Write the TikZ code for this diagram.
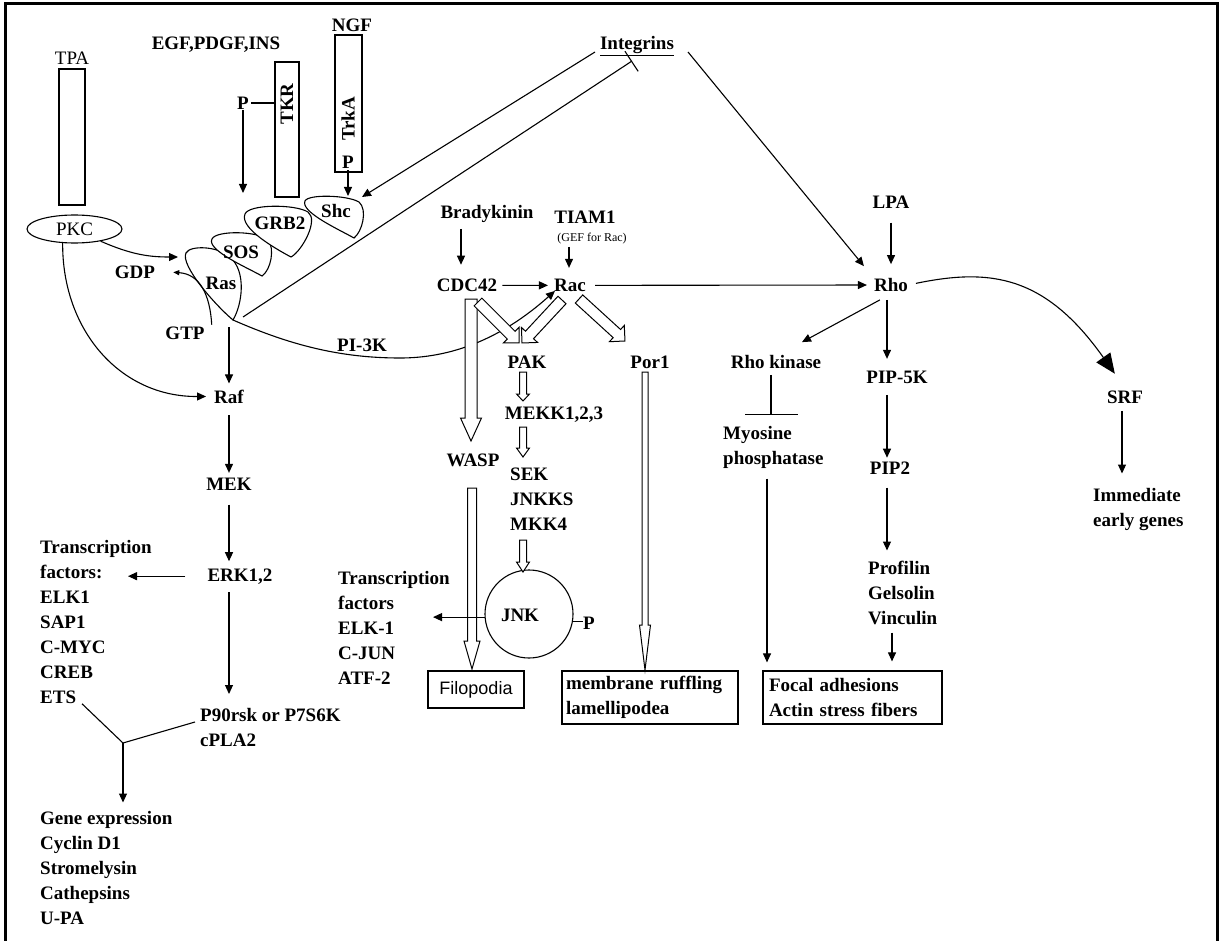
\documentclass[tikz,border=0pt]{standalone}
\usepackage{fontspec}
\setmainfont{Liberation Serif}
\newfontfamily\sansf{Liberation Sans}
\usetikzlibrary{arrows.meta,calc,shapes.geometric}
\newcommand\lbf{\fontsize{19}{25}\selectfont\bfseries}
\newcommand\lrg{\fontsize{19}{25}\selectfont}
% hollow (outlined) arrow: x1 y1 x2 y2 halfshaft halfhead headlength
\newcommand\hollowarr[7]{%
  \pgfmathsetmacro\hwdx{#3-#1}%
  \pgfmathsetmacro\hwdy{#4-#2}%
  \pgfmathsetmacro\hwlen{veclen(\hwdx,\hwdy)}%
  \pgfmathsetmacro\hwang{atan2(#2-#4,#3-#1)}%
  \pgfmathsetmacro\hwneck{\hwlen-#7}%
  \draw[hollow, shift={(#1,#2)}, rotate=\hwang] (0,-#5) -- (\hwneck,-#5) -- (\hwneck,-#6) -- (\hwlen,0) -- (\hwneck,#6) -- (\hwneck,#5) -- (0,#5) -- cycle;%
}
\begin{document}
\begin{tikzpicture}[x=1pt,y=-1pt,
  lb/.style={inner sep=0pt, font=\lbf, anchor=base},
  lr/.style={inner sep=0pt, font=\lrg, anchor=base},
  blk/.style={inner sep=0pt, font=\lbf, align=left, anchor=north west},
  ln/.style={line width=1.1pt},
  arr/.style={ln, -{Triangle[length=9pt,width=8pt]}},
  hollow/.style={line width=1pt, fill=white, line join=miter},
  rbox/.style={draw, line width=1.2pt, rectangle, inner sep=0pt},
  blob/.style={line width=1.1pt, fill=white}
]
\useasboundingbox (0,0) rectangle (1223,941);
% frame
\draw[line width=3pt] (5,941) -- (5,4) -- (1217,4) -- (1217,941);

% ---------- receptors ----------
\node[lr] (tpa) at (72,64.5) {TPA};
\node[rbox, minimum width=26pt, minimum height=136pt] (tpabox) at (72,137) {};
\node[ellipse, draw, ln, minimum width=95pt, minimum height=28pt, inner sep=0pt, font=\lrg] (pkc) at (74.5,229) {PKC};

\node[lb] (egf) at (216,49.5) {EGF,PDGF,INS};
\node[rbox, minimum width=24pt, minimum height=135pt] (tkrbox) at (287,129.5) {};
\node[lb, anchor=center, rotate=90] (tkr) at (287,104) {TKR};
\node[lb, anchor=center] (ptkr) at (243,103) {P};
\draw[ln, shorten <=2pt] (ptkr.east) -- (tkrbox.west |- ptkr.east);
\coordinate (grbtop) at (243,193);
\draw[arr, shorten <=1pt] (ptkr.south) -- (grbtop);

\node[lb] (ngf) at (352,31.5) {NGF};
\node[rbox, minimum width=27pt, minimum height=137pt] (trkbox) at (348.5,103.5) {};
\node[lb, anchor=center, rotate=90] (trka) at (348,119) {TrkA};
\node[lb, anchor=center] (ptrk) at (348,162) {P};
\coordinate (shctop) at (348,196);
\draw[arr, shorten <=2pt] (ptrk.south) -- (shctop);

% ---------- adaptor shapes ----------
\draw[blob] (233,320) .. controls (215,305) and (180,265) .. (186,253) .. controls (190,245) and (218,246) .. (230,257) .. controls (247,272) and (242,305) .. (233,320) -- cycle;
\draw[blob] (262,276) .. controls (248,268) and (206,250) .. (212,239) .. controls (216,230) and (259,231) .. (268,240) .. controls (275,248) and (271,270) .. (262,276) -- cycle;
\draw[blob] (291,257) .. controls (276,249) and (239,228) .. (245,214) .. controls (249,204) and (295,204) .. (308,212) .. controls (319,220) and (302,251) .. (291,257) -- cycle;
\draw[blob] (354,238) .. controls (340,230) and (300,212) .. (305,201) .. controls (308,194) and (347,195) .. (359,202) .. controls (368,210) and (362,232) .. (354,238) -- cycle;
\node[lb, anchor=center] (ras) at (221,283) {Ras};
\node[lb, anchor=center] (sos) at (241,252) {SOS};
\node[lb, anchor=center] (grb) at (280,223) {GRB2};
\node[lb, anchor=center] (shc) at (336,211) {Shc};
\coordinate (rastip) at (233,320);
\coordinate (rasR) at (243,317);
\coordinate (rasleft) at (178,257);
\coordinate (shcR) at (362,197);

% GDP / GTP
\node[lb] (gdp) at (135,278.5) {GDP};
\node[lb] (gtp) at (185,339.5) {GTP};
\draw[ln, -{Triangle[length=6pt,width=5pt]}] ($(gtp.north east)+(7,-2)$) .. controls (210,295) and (200,274) .. ($(gdp.east)+(18,0)$);

% ---------- MAPK cascade ----------
\node[lb] (raf) at (229,403) {Raf};
\node[lb] (mek) at (229,490.5) {MEK};
\node[lb] (erk) at (240,581) {ERK1,2};

% PKC arrows
\draw[arr] (pkc.-25) .. controls (132,255) and (150,257) .. (rasleft);
\draw[arr, shorten >=8pt] (pkc.-130) .. controls (62,330) and (120,397) .. (raf.west);

\draw[arr, shorten <=7pt, shorten >=6pt] (rastip -| raf.north) -- (raf.north);
\draw[arr, shorten <=12pt, shorten >=5pt] (raf.south) -- (mek.north);
\draw[arr, shorten <=14pt, shorten >=7pt] (mek.south) -- (mek.south |- erk.north);
\coordinate (tfarrx) at (128,0);
\draw[arr, shorten <=22pt] (erk.west) -- (erk.west -| tfarrx);

\node[blk] (tf1) at (40,540) {Transcription\\factors:\\ELK1\\SAP1\\C-MYC\\CREB\\ETS};
\node[blk] (p90) at (200,708) {P90rsk or P7S6K\\cPLA2};
\node[blk] (gene) at (40,811.5) {Gene expression\\Cyclin D1\\Stromelysin\\Cathepsins\\U-PA};
\draw[arr, shorten <=8pt, shorten >=14pt] (mek.south |- erk.south) -- (mek.south |- p90.north);
\coordinate (junc) at (123,743);
\draw[ln] ($(tf1.south west)+(42,0)$) -- (junc);
\draw[ln] ($(p90.north west)+(-5,14)$) -- (junc);
\draw[arr, shorten >=9pt] (junc) -- (junc |- gene.north);

% ---------- Integrins ----------
\node[lb] (integ) at (637,49.5) {\underline{Integrins}};
\coordinate (intL) at (595,52);
\coordinate (intB) at (632,61);
\coordinate (intR) at (688,52);
\draw[arr] (intL) -- (shcR);
\draw[ln, -{Bar[width=24pt]}] (rasR) -- (intB);

% ---------- Rho GTPases ----------
\node[lb] (brady) at (487,218.5) {Bradykinin};
\node[lb] (tiam) at (585,223.5) {TIAM1};
\node[inner sep=0pt, font=\fontsize{12}{14}\selectfont, anchor=base] (gef) at (592,242) {(GEF for Rac)};
\node[lb] (cdc) at (467,291.5) {CDC42};
\node[lb] (rac) at (570,291.5) {Rac};
\node[lb] (rho) at (891,291.5) {Rho};
\node[lb] (lpa) at (891,208.5) {LPA};
\draw[arr, shorten <=6pt, shorten >=14pt] ([xshift=-26pt]brady.south) -- ([xshift=-6pt]cdc.north);
\draw[arr, shorten <=2pt, shorten >=11pt] ([xshift=-23pt]gef.south) -- ([xshift=-1pt]rac.north);
\draw[arr, shorten <=5pt, shorten >=6pt] (cdc.east) -- (rac.west);
\draw[arr, shorten <=9pt, shorten >=7pt] (rac.east) -- (rho.west);
\draw[arr, shorten <=14pt, shorten >=14pt] (lpa.south) -- (lpa.south |- rho.north);
\draw[arr] (intR) -- ($(rho.north west)+(-10,-12)$);

% PI-3K
\node[lb] (pi3k) at (362,351.5) {PI-3K};
\draw[arr] (rastip) .. controls (290,345) and (340,358) .. (400,358) .. controls (450,358) and (500,340) .. ($(rac.south west)+(1,-1)$);

% Rho branch
\node[lb] (rhok) at (776,368.5) {Rho kinase};
\node[blk] (myos) at (723,426) {Myosine\\phosphatase};
\draw[arr] ($(rho.south west)+(6,8)$) -- ($(rhok.north)+(26,-13)$);
\draw[ln, -{Bar[width=53pt]}, shorten <=6pt, shorten >=11pt] ($(rhok.south)+(-5,0)$) -- ($(rhok.south |- myos.north)+(-5,0)$);

\node[lb] (pip5) at (897,383.5) {PIP-5K};
\node[lb] (pip2) at (890,474.5) {PIP2};
\node[blk] (prof) at (868,560.5) {Profilin\\Gelsolin\\Vinculin};
\draw[arr, shorten <=8pt, shorten >=12pt] ($(rho.south)+(-4,0)$) -- ($(rho.south |- pip5.north)+(-4,0)$);
\draw[arr, shorten <=11pt, shorten >=4pt] ($(pip5.south)+(-10,0)$) -- ($(pip5.south |- pip2.north)+(-10,0)$);
\draw[arr, shorten <=13pt, shorten >=10pt] ($(pip2.south)+(-3,0)$) -- ($(pip2.south |- prof.north)+(-3,0)$);

\node[rbox, minimum width=179pt, minimum height=53pt, text width=167pt, align=left, font=\lbf] (focal) at (852.5,697.5) {Focal adhesions\\Actin stress fibers};
\draw[arr, shorten <=8pt, shorten >=9pt] ($(prof.south west)+(24,0)$) -- ($(prof.south west |- focal.north)+(24,0)$);
\draw[arr, shorten <=10pt, shorten >=8pt] ($(myos.south west)+(44,0)$) -- ($(myos.south west |- focal.north)+(44,0)$);

% SRF
\node[lb] (srf) at (1125,403.5) {SRF};
\node[blk] (imm) at (1093,488.5) {Immediate\\early genes};
\draw[ln, -{Triangle[length=20pt,width=17pt]}, shorten <=8pt] (rho.east) .. controls (990,268) and (1045,275) .. ($(srf.north west)+(8,-17)$);
\draw[arr, shorten <=7pt, shorten >=15pt] ($(srf.south)+(-3,0)$) -- ($(srf.south |- imm.north)+(-3,0)$);

% ---------- PAK / JNK ----------
\node[lb] (pak) at (527,368.5) {PAK};
\node[lb] (por) at (650,368.5) {Por1};
\node[lb] (mekk) at (554,419.5) {MEKK1,2,3};
\node[blk] (sek) at (510,468) {SEK\\JNKKS\\MKK4};
\node[lb] (wasp) at (473,466.5) {WASP};
\node[circle, draw, ln, minimum size=88pt, inner sep=0pt] (jnk) at (529,614) {};
\node[lb, anchor=center] (jnkt) at (520,615) {JNK};
\node[lb, anchor=center] (pj) at (589,623) {P};
\draw[ln] (jnk.-10) -- (jnk.-10 -| pj.west);
\node[blk] (tf2) at (338,571) {Transcription\\factors\\ELK-1\\C-JUN\\ATF-2};

\node[rbox, minimum width=176pt, minimum height=53pt, text width=168pt, align=left, font=\lbf] (memb) at (650,697.5) {membrane ruffling\\lamellipodea};
\node[rbox, minimum width=96pt, minimum height=37pt, font=\sansf\fontsize{18}{22}\selectfont] (filo) at (476,689.5) {Filopodia};

% hollow arrows
\hollowarr{471}{299}{471}{441}{6}{10.5}{23}
\hollowarr{478}{302}{519}{343}{5.5}{11}{11}
\hollowarr{562}{300}{522}{343}{5.5}{11}{11}
\hollowarr{579}{299}{625}{341}{5.5}{11}{11}
\hollowarr{523}{372}{523}{401}{3.5}{6.5}{7}
\hollowarr{523}{427}{523}{457}{3.5}{6.5}{9}
\hollowarr{523}{540}{523}{572}{3.5}{6.5}{10}
\hollowarr{472}{488}{472}{669}{4.5}{8}{28}
\hollowarr{645}{372}{645}{670}{3}{5.5}{45}

\coordinate (tf2arrx) at (433,0);
\draw[arr] (jnk.184) -- (jnk.184 -| tf2arrx);
\end{tikzpicture}
\end{document}
